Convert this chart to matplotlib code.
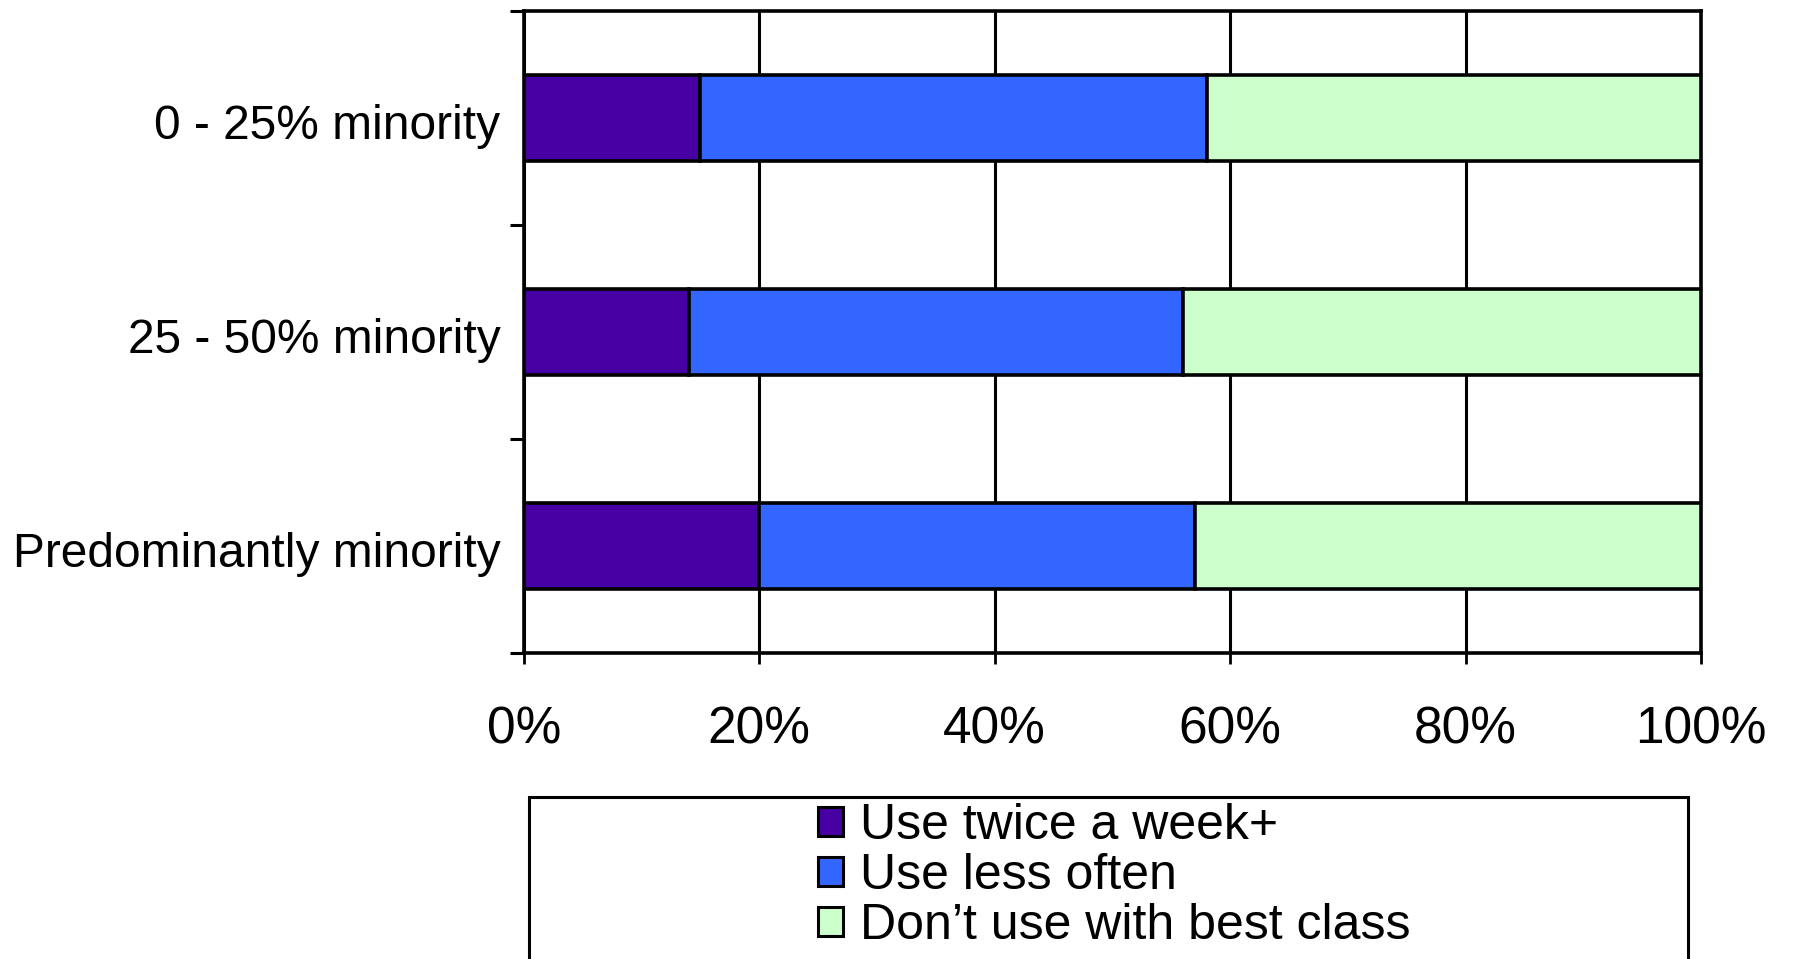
import matplotlib
matplotlib.use("Agg")
import numpy as np
import matplotlib.pyplot as plt
from matplotlib.patches import Rectangle

plt.rcParams["font.family"] = ["Liberation Sans", "DejaVu Sans"]

groups = ["0 - 25% minority", "25 - 50% minority", "Predominantly minority"]
series = ["Use twice a week+", "Use less often", "Don\u2019t use with best class"]
twice_week = [15, 14, 20]
less_often = [43, 42, 37]
not_used = [42, 44, 43]
colors = ["#4700A3", "#3366FF", "#CCFFCC"]
xticks = [0, 20, 40, 60, 80, 100]

fig = plt.figure(figsize=(17.93, 9.59), dpi=100)
ax = fig.add_axes([0.2922, 0.3191, 0.9487 - 0.2922, 0.9885 - 0.3191])

y = np.arange(len(groups))
left = np.zeros(len(groups))
for vals, lab, col in zip([twice_week, less_often, not_used], series, colors):
    ax.barh(y, vals, left=left, height=0.4, color=col, edgecolor="black",
            linewidth=2.6, label=lab, zorder=3)
    left += np.asarray(vals, dtype=float)

ax.set_xlim(0, 100)
ax.set_ylim(len(groups) - 0.5, -0.5)
ax.set_xticks(xticks)
ax.set_xticklabels([f"{v}%" for v in xticks], fontsize=37)
ax.xaxis.grid(True, color="black", lw=2.2, zorder=0)
ax.tick_params(axis="x", direction="out", length=8, width=2.0, pad=30)

# category labels at bar centres, boundary ticks on the minor locator
ax.set_yticks(y + 0.015)
ax.set_yticklabels(groups, fontsize=34.5)
ax.tick_params(axis="y", which="major", length=0, pad=17)
ax.set_yticks(np.arange(-0.5, len(groups) + 0.5, 1.0), minor=True)
ax.tick_params(axis="y", which="minor", direction="out", length=10, width=2.2)

for sp in ax.spines.values():
    sp.set_linewidth(2.6)
    sp.set_color("black")

handles, labels = ax.get_legend_handles_labels()
leg = fig.legend(handles, labels, loc="center",
                 bbox_to_anchor=(1114 / 1793, 1 - 876 / 959),
                 frameon=False, fontsize=36, handlelength=0.5,
                 handleheight=0.5, handletextpad=0.35, labelspacing=0.08,
                 borderpad=0)
for h in leg.legend_handles:
    h.set_linewidth(2.2)

fig.patches.append(Rectangle((529 / 1793, -0.05), (1688 - 529) / 1793,
                             0.05 + 1 - 797 / 959, transform=fig.transFigure,
                             fill=False, edgecolor="black", lw=2.2,
                             clip_on=False))

fig.savefig("out.png", dpi=100)
